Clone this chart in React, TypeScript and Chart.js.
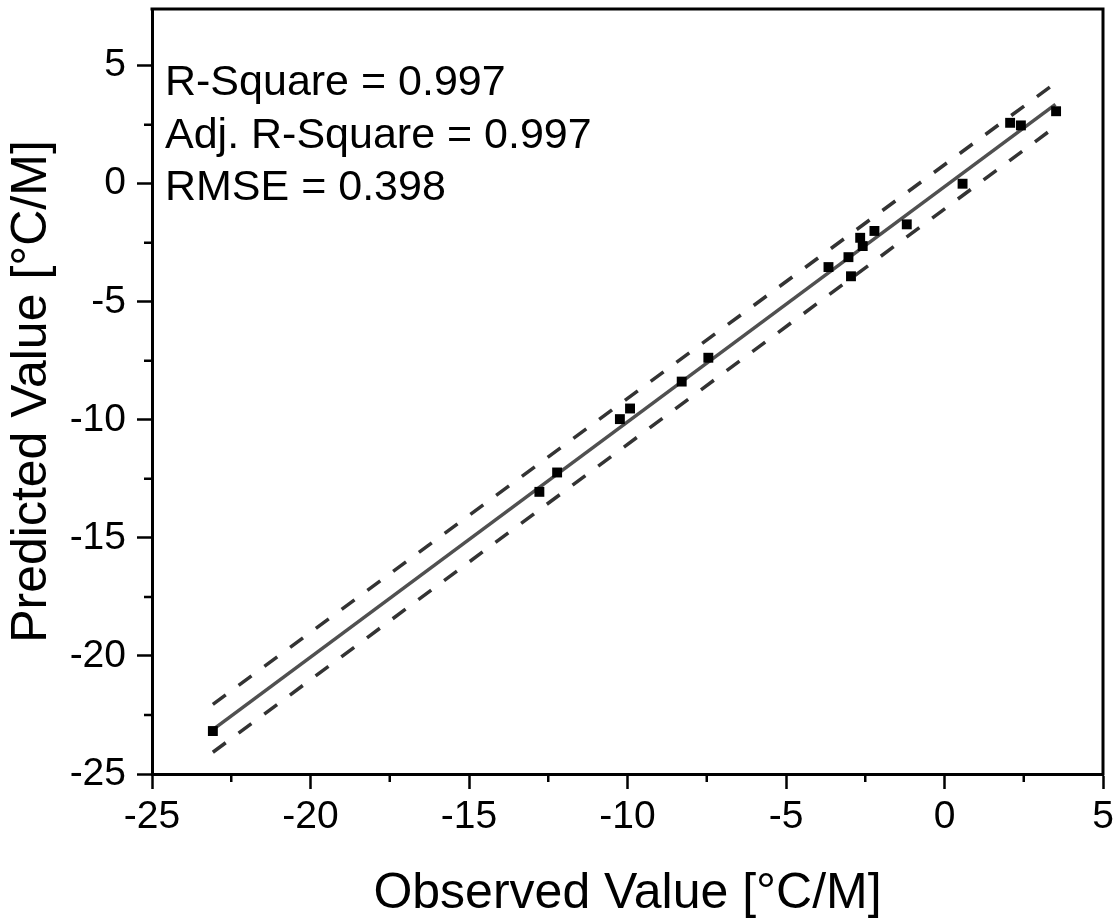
import { useEffect, useRef } from 'react';
import { Chart, registerables } from 'chart.js';

Chart.register(...registerables);

const FONT = 'Arial, "Liberation Sans", sans-serif';

// Observed vs predicted values [°C/M]
const observed = [-23.08, -12.78, -12.22, -10.24, -9.92, -8.29, -7.45, -3.66, -3.03, -2.95, -2.66, -2.58, -2.21, -1.19, 0.57, 2.07, 2.41, 3.52];
const predicted = [-23.18, -13.05, -12.23, -9.97, -9.52, -8.38, -7.37, -3.53, -3.11, -3.92, -2.29, -2.64, -2.0, -1.72, 0.0, 2.58, 2.47, 3.07];

// Linear fit and prediction bands (end points)
const fitX = [-23.08, 3.5];
const fitY = [-23.12, 3.36];
const upperY = [-22.05, 4.27];
const lowerY = [-24.08, 2.42];

// Axes
const xMin = -25;
const xMax = 5;
const yMin = -25;
const yMax = 7.4;
const majorStep = 5;
const xMinorTicks = [-22.5, -17.5, -12.5, -7.5, -2.5, 2.5];
const yMinorTicks = [-22.5, -17.5, -12.5, -7.5, -2.5, 2.5];

const xTitle = 'Observed Value [°C/M]';
const yTitle = 'Predicted Value [°C/M]';
const statLabels = ['R-Square = 0.997', 'Adj. R-Square = 0.997', 'RMSE = 0.398'];

const framePlugin = {
  id: 'frameAndMinor',
  afterDraw(chart: any) {
    const { ctx, chartArea } = chart;
    const xs = chart.scales.x;
    const ys = chart.scales.y;
    ctx.save();
    ctx.strokeStyle = '#000';
    ctx.lineWidth = 3;
    ctx.beginPath();
    ctx.moveTo(chartArea.left - 1.5, chartArea.top);
    ctx.lineTo(chartArea.right, chartArea.top);
    ctx.lineTo(chartArea.right, chartArea.bottom + 1.5);
    ctx.stroke();
    ctx.lineWidth = 2.5;
    ctx.beginPath();
    for (const v of xMinorTicks) {
      const px = xs.getPixelForValue(v);
      ctx.moveTo(px, chartArea.bottom);
      ctx.lineTo(px, chartArea.bottom + 8);
    }
    for (const v of yMinorTicks) {
      const py = ys.getPixelForValue(v);
      ctx.moveTo(chartArea.left, py);
      ctx.lineTo(chartArea.left - 8, py);
    }
    ctx.stroke();
    ctx.fillStyle = '#000';
    ctx.font = `43px ${FONT}`;
    ctx.textAlign = 'left';
    ctx.textBaseline = 'alphabetic';
    const baselines = [95, 147.5, 200];
    statLabels.forEach((t, i) => ctx.fillText(t, chartArea.left + 13, baselines[i]));
    ctx.restore();
  },
};

export default function App() {
  const ref = useRef<HTMLCanvasElement | null>(null);
  useEffect(() => {
    if (!ref.current) return;
    const points = observed.map((x, i) => ({ x, y: predicted[i] }));
    const line = (ys: number[]) => fitX.map((x, i) => ({ x, y: ys[i] }));
    const chart = new Chart(ref.current, {
      type: 'scatter',
      data: {
        datasets: [
          {
            data: points,
            pointStyle: 'rect',
            pointRadius: 7,
            pointBackgroundColor: '#000',
            pointBorderWidth: 0,
            showLine: false,
          },
          {
            data: line(fitY),
            showLine: true,
            borderColor: '#505050',
            borderWidth: 3.5,
            pointRadius: 0,
          },
          {
            data: line(upperY),
            showLine: true,
            borderColor: '#333',
            borderWidth: 3.5,
            borderDash: [16, 16],
            pointRadius: 0,
          },
          {
            data: line(lowerY),
            showLine: true,
            borderColor: '#333',
            borderWidth: 3.5,
            borderDash: [16, 16],
            pointRadius: 0,
          },
        ] as any,
      },
      options: {
        responsive: false,
        animation: false,
        events: [],
        layout: { padding: { left: 0, right: 12, top: 9, bottom: 0 } },
        plugins: { legend: { display: false }, tooltip: { enabled: false } },
        scales: {
          x: {
            type: 'linear',
            min: xMin,
            max: xMax,
            border: { display: true, color: '#000', width: 3 },
            grid: { display: true, drawOnChartArea: false, drawTicks: true, tickLength: 15, tickWidth: 2.5, tickColor: '#000' },
            ticks: {
              stepSize: majorStep,
              includeBounds: false,
              color: '#000',
              padding: 9,
              maxRotation: 0,
              autoSkip: false,
              font: { family: FONT, size: 39, lineHeight: 1 },
            },
            title: {
              display: true,
              text: xTitle,
              color: '#000',
              padding: { top: 0, bottom: 2.5 },
              font: { family: FONT, size: 50, lineHeight: 1 },
            },
            afterFit(scale: any) {
              scale.height = 148;
              scale.paddingLeft = 0;
              scale.paddingRight = 0;
            },
          },
          y: {
            type: 'linear',
            min: yMin,
            max: yMax,
            border: { display: true, color: '#000', width: 3 },
            grid: { display: true, drawOnChartArea: false, drawTicks: true, tickLength: 15, tickWidth: 2.5, tickColor: '#000' },
            ticks: {
              stepSize: majorStep,
              includeBounds: false,
              color: '#000',
              padding: 11,
              autoSkip: false,
              font: { family: FONT, size: 39, lineHeight: 1 },
            },
            title: {
              display: true,
              text: yTitle,
              color: '#000',
              padding: { top: 7.5, bottom: 0 },
              font: { family: FONT, size: 50, lineHeight: 1 },
            },
            afterFit(scale: any) {
              scale.width = 152;
              scale.paddingTop = 0;
              scale.paddingBottom = 0;
            },
          },
        },
      } as any,
      plugins: [framePlugin],
    });
    return () => chart.destroy();
  }, []);
  return (
    <div style={{ position: 'absolute', left: 0, top: 0, width: 1115, height: 922, background: '#fff' }}>
      <canvas ref={ref} width={1115} height={922} style={{ display: 'block' }} />
    </div>
  );
}
